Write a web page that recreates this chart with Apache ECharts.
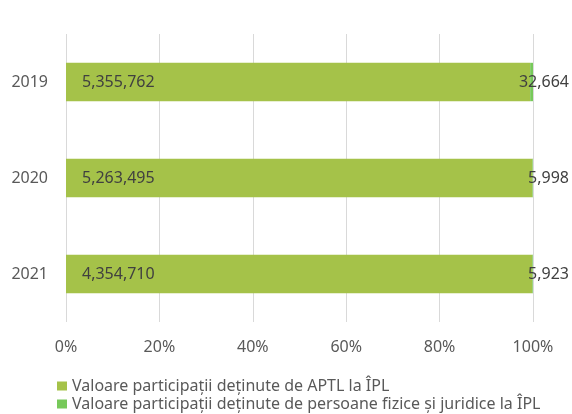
<!DOCTYPE html>
<html>
<head>
<meta charset="utf-8">
<script src="https://cdn.jsdelivr.net/npm/echarts@6/dist/echarts.min.js"></script>
<style>
  html, body { margin: 0; padding: 0; background: #fff; }
  #chart { width: 572px; height: 414px; }
</style>
</head>
<body>
<div id="chart"></div>
<script>
const years = ['2019', '2020', '2021']
const aptlValues = [5355762, 5263495, 4354710]
const persoaneValues = [32664, 5998, 5923]
const xTicks = [0, 20, 40, 60, 80, 100]

const aptlName = 'Valoare participații deținute de APTL la ÎPL'
const persoaneName = 'Valoare participații deținute de persoane fizice și juridice la ÎPL'

// procente pentru bara 100% stivuita
const totals = years.map((y, i) => aptlValues[i] + persoaneValues[i])
const aptlPct = aptlValues.map((v, i) => v / totals[i] * 100)
const persoanePct = persoaneValues.map((v, i) => v / totals[i] * 100)

const fmt = (n) => n.toLocaleString('en-US')
const font = 'Noto Sans'

const legendBase = {
  orient: 'vertical',
  left: 57,
  padding: 0,
  itemWidth: 10,
  itemHeight: 9,
  icon: 'rect',
  textStyle: { fontFamily: font, fontSize: 16, color: '#595959' }
}

const myChart = echarts.init(document.getElementById('chart'))
const option = {
  animation: false,
  grid: { left: 66, right: 39, top: 34, bottom: 92 },
  legend: [
    Object.assign({}, legendBase, { top: 378, data: [aptlName] }),
    Object.assign({}, legendBase, { top: 396, data: [persoaneName] })
  ],
  xAxis: {
    type: 'value',
    min: 0,
    max: 100,
    interval: 20,
    axisLine: { show: false },
    axisTick: { show: false },
    splitLine: { lineStyle: { color: '#D9D9D9', width: 1 } },
    axisLabel: {
      margin: 17,
      fontFamily: font,
      fontSize: 16,
      color: '#595959',
      formatter: (v) => xTicks.includes(v) ? v + '%' : ''
    }
  },
  yAxis: {
    type: 'category',
    inverse: true,
    data: years,
    axisLine: { show: false },
    axisTick: { show: false },
    axisLabel: { margin: 18, fontFamily: font, fontSize: 16, color: '#595959' }
  },
  series: [
    {
      name: aptlName,
      type: 'bar',
      stack: 'total',
      barWidth: '40%',
      itemStyle: { color: '#A5C249' },
      label: {
        show: true,
        position: 'insideLeft',
        distance: 16,
        fontFamily: font,
        fontSize: 16,
        color: '#404040',
        formatter: (p) => fmt(aptlValues[p.dataIndex])
      },
      data: aptlPct
    },
    {
      name: persoaneName,
      type: 'bar',
      stack: 'total',
      barWidth: '40%',
      itemStyle: { color: '#77C95A' },
      label: {
        show: true,
        position: ['100%', '50%'],
        align: 'right',
        verticalAlign: 'middle',
        offset: [36, 0],
        fontFamily: font,
        fontSize: 16,
        color: '#404040',
        formatter: (p) => fmt(persoaneValues[p.dataIndex])
      },
      data: persoanePct
    }
  ]
}
myChart.setOption(option)
</script>
</body>
</html>
